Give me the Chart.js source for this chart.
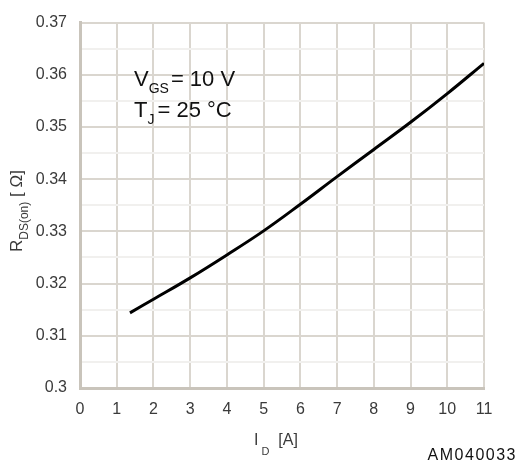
<!DOCTYPE html>
<html>
<head>
<meta charset="utf-8">
<script src="https://cdn.jsdelivr.net/npm/chart.js@4"></script>
<style>
html,body{margin:0;padding:0;background:#fff;}
#wrap{width:521px;height:466px;position:relative;}
</style>
</head>
<body>
<div id="wrap"><canvas id="c" width="521" height="466"></canvas></div>
<script>
// Data
const currentA = [1.36, 2, 3, 4, 5, 6, 7, 8, 9, 10, 11];
const rdsOhm = [0.3144, 0.3170, 0.3211, 0.3255, 0.3301, 0.3352, 0.3405, 0.3457, 0.3509, 0.3564, 0.3622];
const xTickValues = [0, 1, 2, 3, 4, 5, 6, 7, 8, 9, 10, 11];
const yTickLabels = ["0.3", "0.31", "0.32", "0.33", "0.34", "0.35", "0.36", "0.37"];

const FONT = '"Liberation Sans", Arial, sans-serif';
const TEXT = '#3a3a3a';
const GRID = '#dad6cf';
const MINOR = '#f1f0ee';

const points = currentA.map((x, i) => ({x: x, y: rdsOhm[i]}));

function isMajor(v) { return Math.round(v * 1000) % 10 === 0; }

const textPlugin = {
  id: 'texts',
  afterDraw(chart) {
    const ctx = chart.ctx;
    ctx.save();
    ctx.fillStyle = '#111';
    ctx.textBaseline = 'alphabetic';
    ctx.textAlign = 'left';
    function run(parts, x, y) {
      for (const p of parts) {
        ctx.font = p[1] + 'px ' + FONT;
        ctx.fillText(p[0], x + (p[3] || 0), y + p[2]);
        x += ctx.measureText(p[0]).width + (p[3] || 0);
      }
      return x;
    }
    // annotations
    run([['V', 22, 0], ['GS', 14, 7], ['=', 22, 0, 2], [' 10 V', 22, 0]], 134, 86);
    run([['T', 22, 0], ['J', 14, 7], ['=', 22, 0, 3], [' 25 °C', 22, 0]], 134, 117);

    ctx.fillStyle = TEXT;
    // x title
    run([['I', 16, 0], [' D', 11, 10], ['  [A]', 16, 0]], 254, 445);
    // y title (rotated)
    ctx.save();
    ctx.translate(22, 252);
    ctx.rotate(-Math.PI / 2);
    run([['R', 17, 0], ['DS(on)', 12, 6], [' [ Ω]', 17, 0]], 0, 0);
    ctx.restore();
    // figure id
    ctx.fillStyle = '#111';
    ctx.font = '16px ' + FONT;
    ctx.textAlign = 'right';
    try { ctx.letterSpacing = '1.5px'; } catch (e) {}
    ctx.fillText('AM040033', 517, 460);
    ctx.restore();
  }
};

new Chart(document.getElementById('c'), {
  type: 'line',
  data: {
    datasets: [{
      data: points,
      borderColor: '#000',
      borderWidth: 3,
      pointRadius: 0,
      fill: false,
      tension: 0.4
    }]
  },
  options: {
    responsive: false,
    animation: false,
    events: [],
    layout: {padding: {left: 0, right: 37, top: 18, bottom: 0}},
    plugins: {legend: {display: false}, tooltip: {enabled: false}},
    scales: {
      x: {
        type: 'linear',
        min: 0, max: 11,
        afterBuildTicks: (s) => { s.ticks = xTickValues.map(v => ({value: v})); },
        afterFit: (s) => { s.height = 78; },
        ticks: {
          font: {family: FONT, size: 16},
          color: TEXT,
          padding: 12,
          maxRotation: 0,
          callback: (v) => String(v)
        },
        grid: {color: GRID, lineWidth: 2, drawTicks: false},
        border: {color: '#c9c4bb', width: 3}
      },
      y: {
        type: 'linear',
        min: 0.3, max: 0.37,
        afterBuildTicks: (s) => {
          const t = [];
          for (let k = 0; k <= 14; k++) t.push({value: Math.round((0.3 + k * 0.005) * 1000) / 1000});
          s.ticks = t;
        },
        afterFit: (s) => { s.width = 80; },
        ticks: {
          font: {family: FONT, size: 16},
          color: TEXT,
          padding: 13,
          autoSkip: false,
          callback: (v) => {
            if (!isMajor(v)) return '';
            const k = Math.round((v - 0.3) * 100);
            return yTickLabels[k];
          }
        },
        grid: {
          color: (c) => (c.tick && !isMajor(c.tick.value)) ? MINOR : GRID,
          lineWidth: 2,
          drawTicks: false
        },
        border: {color: '#c9c4bb', width: 3}
      }
    }
  },
  plugins: [textPlugin]
});
</script>
</body>
</html>
